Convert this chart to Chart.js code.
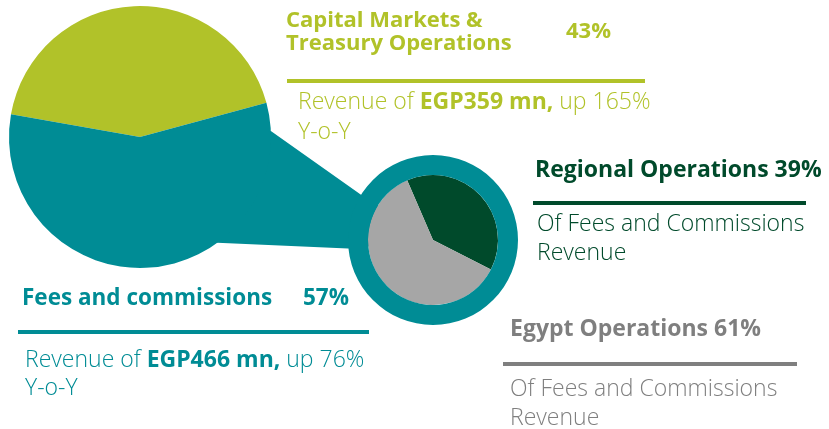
<!DOCTYPE html>
<html>
<head>
<meta charset="utf-8">
<script src="https://cdn.jsdelivr.net/npm/chart.js@4.4.1/dist/chart.umd.min.js"></script>
<style>
    html, body { margin: 0; padding: 0; background: #ffffff; }
    #stage { position: relative; width: 829px; height: 429px; overflow: hidden; font-family: "Open Sans", "Noto Sans", sans-serif; }
    #mainChart { position: absolute; left: 0; top: 0; }
    #subChart { position: absolute; }
    .t { position: absolute; white-space: nowrap; }
    .title { font-weight: 700; font-size: 23px; line-height: 30px; }
    .body { font-weight: 300; font-size: 23px; line-height: 29px; }
    .body b { font-weight: 700; }
    .rule { position: absolute; height: 4px; }
</style>
</head>
<body>
<div id="stage">
    <canvas id="mainChart" width="829" height="429"></canvas>
    <canvas id="subChart" width="170" height="170"></canvas>

    <div class="t title" style="left:286px; top:7.4px; font-size:22px; line-height:23px; color:#b1c229;">Capital Markets &amp;<br>Treasury Operations</div>
    <div class="t title" style="left:566px; top:18.4px; font-size:22px; line-height:23px; color:#b1c229;">43%</div>
    <div class="rule" style="left:287px; top:79px; width:358px; background:#b1c229;"></div>
    <div class="t body" style="left:298px; top:84.8px; line-height:30px; color:#b1c229;">Revenue of <b>EGP359 mn,</b> up 165%<br>Y-o-Y</div>

    <div class="t title" style="left:535px; top:152.5px; color:#004a2b;">Regional Operations 39%</div>
    <div class="rule" style="left:533px; top:201px; width:273px; background:#004a2b;"></div>
    <div class="t body" style="left:537px; top:208.2px; line-height:28.5px; color:#004a2b;">Of Fees and Commissions<br>Revenue</div>

    <div class="t title" style="left:22px; top:281.6px; font-size:22.5px; color:#008c95;">Fees and commissions</div>
    <div class="t title" style="left:303px; top:281.6px; font-size:22.5px; color:#008c95;">57%</div>
    <div class="rule" style="left:18px; top:330px; width:351px; background:#008c95;"></div>
    <div class="t body" style="left:25px; top:343.5px; line-height:28px; color:#008c95;">Revenue of <b>EGP466 mn,</b> up 76%<br>Y-o-Y</div>

    <div class="t title" style="left:510px; top:311.8px; color:#7f7f7f;">Egypt Operations 61%</div>
    <div class="rule" style="left:503px; top:362px; width:294px; background:#7f7f7f;"></div>
    <div class="t body" style="left:510px; top:373px; color:#7f7f7f;">Of Fees and Commissions<br>Revenue</div>
</div>
<script>
// revenue split (left pie)
const revenueLabels = ["Capital Markets & Treasury Operations", "Fees and commissions"];
const revenueShares = [43, 57];
const revenueColors = ["#b1c229", "#008c95"];

// fees and commissions split (small pie)
const feesLabels = ["Regional Operations", "Egypt Operations"];
const feesShares = [39, 61];
const feesColors = ["#004a2b", "#a6a6a6"];

const TEAL = "#008c95";

// where the small pie sits on the page
const sub = { cx: 432.5, cy: 240, r: 85, ring: 20 };

// teal "zoom" connector between the two pies, drawn under the big pie
const connectorPlugin = {
    id: "connector",
    beforeDatasetsDraw(chart) {
        const arc = chart.getDatasetMeta(0).data[0];
        if (!arc) return;
        const bx = arc.x, by = arc.y, br = arc.outerRadius;
        const rad = (d) => d * Math.PI / 180;
        const onBig = (d) => [bx + br * Math.cos(rad(d)), by + br * Math.sin(rad(d))];
        const onSub = (d) => [sub.cx + sub.r * Math.cos(rad(d)), sub.cy + sub.r * Math.sin(rad(d))];
        const pts = [[bx, by], onBig(-2.6), onSub(-147.7), [sub.cx, sub.cy], onSub(174.2), onBig(53.9)];
        const ctx = chart.ctx;
        ctx.save();
        ctx.beginPath();
        ctx.moveTo(pts[0][0], pts[0][1]);
        for (let i = 1; i < pts.length; i++) {
            ctx.lineTo(pts[i][0], pts[i][1]);
        }
        ctx.closePath();
        ctx.fillStyle = TEAL;
        ctx.fill();
        ctx.restore();
    }
};

new Chart(document.getElementById("mainChart"), {
    type: "pie",
    data: {
        labels: revenueLabels,
        datasets: [{
            data: revenueShares,
            backgroundColor: revenueColors,
            borderWidth: 0
        }]
    },
    options: {
        responsive: false,
        animation: false,
        rotation: -80,
        layout: { padding: { left: 9, top: 6, right: 558, bottom: 161 } },
        plugins: {
            legend: { display: false },
            tooltip: { enabled: false }
        }
    },
    plugins: [connectorPlugin]
});

const subCanvas = document.getElementById("subChart");
subCanvas.style.left = (sub.cx - sub.r) + "px";
subCanvas.style.top = (sub.cy - sub.r) + "px";

new Chart(subCanvas, {
    type: "pie",
    data: {
        labels: feesLabels,
        datasets: [
            {
                // teal frame around the small pie
                data: [1],
                backgroundColor: [TEAL],
                borderWidth: 0,
                weight: sub.ring
            },
            {
                data: feesShares,
                backgroundColor: feesColors,
                borderWidth: 0,
                rotation: -23.4,
                weight: sub.r - sub.ring
            }
        ]
    },
    options: {
        responsive: false,
        animation: false,
        layout: { padding: 0 },
        plugins: {
            legend: { display: false },
            tooltip: { enabled: false }
        }
    }
});
</script>
</body>
</html>
